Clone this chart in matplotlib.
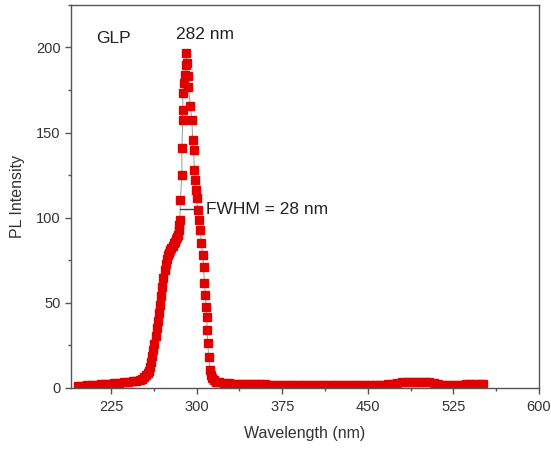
import matplotlib
matplotlib.use('Agg')
import matplotlib.pyplot as plt
from matplotlib.ticker import MultipleLocator

plt.rcParams['font.family'] = ['Liberation Sans', 'DejaVu Sans']

# PL spectrum of GLP
wavelength = [196, 200, 204, 208, 212, 216, 220, 224, 228, 232, 236, 240, 244, 247,
              250, 252, 254, 256, 257, 258, 259, 260, 261, 262, 263, 264, 265, 266,
              267, 268, 269, 270, 271, 272, 273, 274, 275, 276, 277, 278, 279, 280,
              281, 282, 283, 284, 284.6, 285,
              285.3, 285.9, 287.1, 287.1, 287.9, 287.9, 287.9, 288.8, 290, 290.7, 290.9, 291.3,
              292.3, 292.9, 294.6, 295.8, 296.6, 297.3, 298.1, 298.7, 299.6, 300.1, 301,
              302.5, 303.4, 304, 305.4, 306.2, 306.8, 307.7, 308.3, 308.9, 309.2, 309.8,
              310.6, 311.8, 312.7, 313.6, 315, 317, 320, 324, 328, 332, 336, 340, 344,
              348, 352, 356, 360, 364, 368, 372, 376, 380, 384, 388, 392, 396, 400, 404,
              408, 412, 416, 420, 424, 428, 432, 436, 440, 444, 448, 452, 456, 460, 464,
              468, 472, 476, 480, 484, 488, 492, 496, 500, 504, 508, 512, 516, 520, 524,
              528, 532, 536, 540, 544, 548, 551]
intensity = [1.2, 1.3, 1.5, 1.7, 1.9, 2.1, 2.3, 2.4, 2.7, 3.0, 3.3, 3.6, 3.9, 4.3,
             4.8, 5.5, 6.2, 7.5, 8.8, 10.2, 12.5, 15, 18.5, 22, 26, 30.5, 35, 39.5,
             44, 49, 54, 59.5, 64.5, 69, 73, 76, 78, 79.5, 81, 82, 83.5, 85,
             86, 87.5, 88.5, 90, 92.5, 95.5,
             98.8, 110.6, 125.3, 141, 157.6, 163.5, 173.5, 179.4, 184, 190, 197, 191,
             183, 176.5, 165.5, 157.6, 145.9, 140, 128, 122, 116.5, 111.8, 104.7,
             98.8, 93, 85.3, 78.2, 71.2, 61.8, 54.7, 47.8, 41.9, 34, 26.5,
             18.4, 10.6, 7.5, 5.9, 4.6, 3.7, 3.2, 2.9, 2.7, 2.6, 2.5, 2.4, 2.3,
             2.3, 2.2, 2.2, 2.1, 2.0, 2.0, 1.9, 1.9, 1.8, 1.8, 1.7, 1.7, 1.6, 1.6, 1.6,
             1.5, 1.5, 1.5, 1.5, 1.5, 1.5, 1.5, 1.5, 1.5, 1.5, 1.5, 1.5, 1.5, 1.6, 1.8,
             2.1, 2.6, 3.0, 3.3, 3.4, 3.5, 3.5, 3.5, 3.4, 3.2, 2.8, 2.3, 2.0, 1.8, 1.7,
             1.7, 1.9, 2.1, 2.2, 2.2, 2.3, 2.3]

fig = plt.figure(figsize=(5.51, 4.49), dpi=100)
ax = fig.add_axes([0.129, 0.136, 0.849, 0.853])

ax.plot(wavelength, intensity, color='#999999', lw=0.7, zorder=1)
ax.plot(wavelength, intensity, ls='none', marker='s', ms=5.8, color='#e00000',
        mec='#e00000', zorder=2)

# FWHM bar
ax.plot([285.4, 302.0], [105, 105], color='#444444', lw=1, zorder=3)
ax.text(308.6, 105, 'FWHM = 28 nm', fontsize=12.5, color='#222222', va='center', ha='left')
ax.text(307.3, 207.5, '282 nm', fontsize=12.5, color='#222222', va='center', ha='center')
ax.text(211.8, 205, 'GLP', fontsize=12.5, color='#222222', va='center', ha='left')

ax.set_xlim(190, 600)
ax.set_ylim(0, 225)
ax.set_xticks([225, 300, 375, 450, 525, 600])
ax.set_yticks([0, 50, 100, 150, 200])
ax.xaxis.set_minor_locator(MultipleLocator(37.5))
ax.yaxis.set_minor_locator(MultipleLocator(25))

for s in ax.spines.values():
    s.set_color('#555555')
    s.set_linewidth(1.0)
ax.tick_params(which='both', direction='out', colors='#555555', labelcolor='#333333',
               top=False, right=False)
ax.tick_params(which='major', length=4, width=1, labelsize=10.5)
ax.tick_params(which='minor', length=2.5, width=1)
ax.tick_params(axis='x', which='major', pad=5)

ax.set_xlabel('Wavelength (nm)', fontsize=11.5, color='#333333', labelpad=8)
ax.set_ylabel('PL Intensity', fontsize=11.5, color='#333333', labelpad=8)

fig.savefig('out.png', dpi=100)
